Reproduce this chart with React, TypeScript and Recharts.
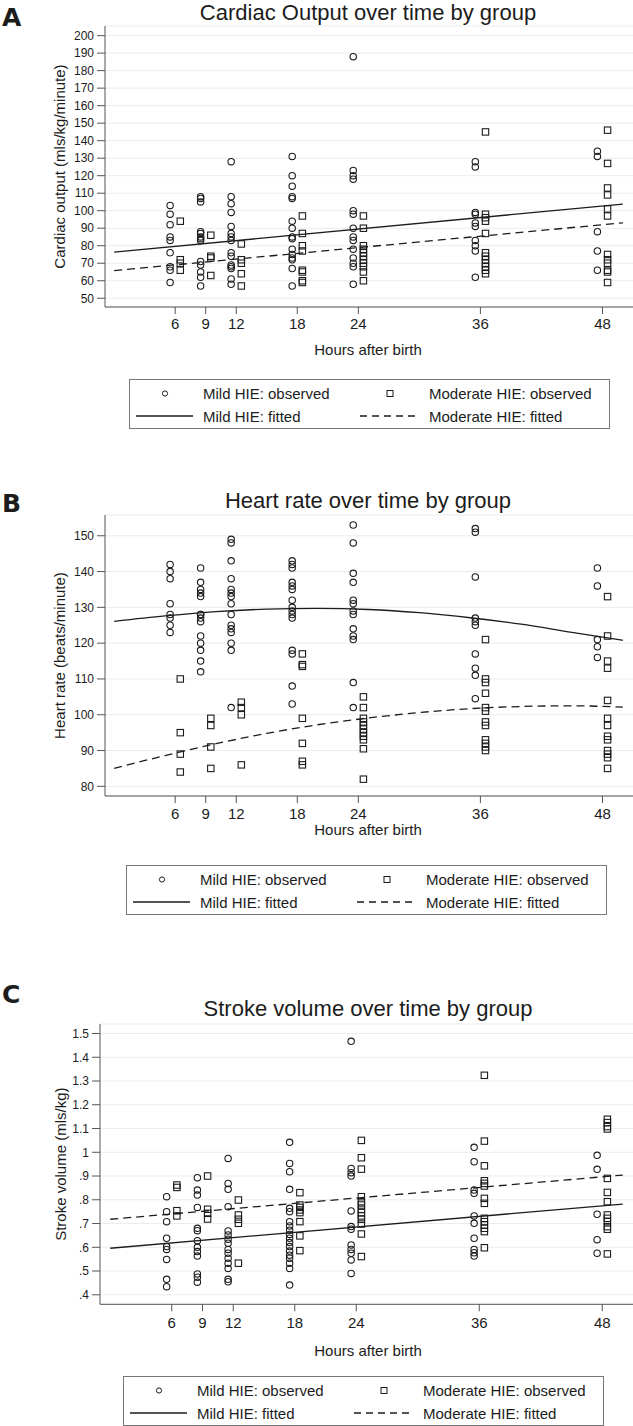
import { ComposedChart, Scatter, XAxis, YAxis, CartesianGrid } from 'recharts';

const HOURS = [6, 9, 12, 18, 24, 36, 48];

// A: cardiac output, one inner list per hour in HOURS
const coMild = [
  [103, 98, 92, 85, 83, 76, 68, 66, 59],
  [108, 107, 105, 88, 87, 85, 84, 83, 71, 69, 65, 62, 57],
  [128, 108, 104, 99, 91, 87, 85, 83, 76, 74, 69, 68, 67, 61, 58],
  [131, 120, 114, 108, 107, 94, 90, 85, 84, 78, 75, 73, 72, 67, 57],
  [188, 123, 120, 118, 100, 98, 90, 85, 83, 78, 73, 70, 68, 58],
  [128, 125, 99, 98, 93, 91, 83, 80, 77, 62],
  [134, 131, 88, 77, 66],
];
const coModerate = [
  [94, 72, 70, 66],
  [86, 74, 73, 63],
  [81, 72, 70, 64, 57],
  [97, 87, 80, 77, 66, 65, 60, 59],
  [97, 90, 80, 78, 76, 74, 72, 70, 68, 65, 60],
  [145, 98, 96, 94, 87, 76, 74, 72, 70, 68, 66, 64],
  [146, 127, 113, 109, 101, 97, 75, 72, 70, 66, 65, 59],
];

// B: heart rate
const hrMild = [
  [142, 140, 138, 131, 128, 127, 125, 123],
  [141, 137, 135, 134, 133, 128, 128, 127, 126, 122, 120, 118, 115, 112],
  [149, 148, 143, 138, 135, 134, 133, 131, 128, 125, 124, 123, 120, 118, 102],
  [143, 142, 141, 137, 136, 135, 132, 130, 129, 128, 127, 118, 117, 108, 103],
  [153, 148, 139.5, 137, 132, 131, 129, 128, 124, 122, 121, 109, 102],
  [152, 151, 138.5, 127, 126, 125, 117, 113, 111, 104.5],
  [141, 136, 121, 119, 116],
];
const hrModerate = [
  [110, 95, 89, 84],
  [99, 97, 91, 85],
  [103.5, 102, 100, 86],
  [117, 114, 113.5, 99, 92, 87, 86],
  [105, 102, 99, 98, 97, 96, 95, 94, 93, 90.5, 82],
  [121, 110, 109, 106, 102, 101, 98, 97, 93, 92, 91, 90],
  [133, 122, 115, 113, 104, 99, 97, 94, 93, 90, 89, 88, 85],
];

// C: stroke volume
const svMild = [
  [0.813, 0.75, 0.708, 0.638, 0.603, 0.591, 0.549, 0.465, 0.434],
  [0.893, 0.841, 0.82, 0.768, 0.68, 0.67, 0.628, 0.6, 0.582, 0.563, 0.488, 0.474, 0.453],
  [0.974, 0.869, 0.844, 0.771, 0.669, 0.652, 0.634, 0.617, 0.591, 0.575, 0.554, 0.533, 0.511, 0.465, 0.455],
  [1.042, 0.953, 0.918, 0.844, 0.764, 0.75, 0.708, 0.69, 0.672, 0.654, 0.638, 0.62, 0.603, 0.584, 0.567, 0.554, 0.533, 0.511, 0.441],
  [1.467, 0.932, 0.914, 0.9, 0.753, 0.687, 0.676, 0.61, 0.591, 0.575, 0.547, 0.49],
  [1.021, 0.96, 0.841, 0.827, 0.732, 0.701, 0.638, 0.591, 0.577, 0.563],
  [0.987, 0.928, 0.739, 0.632, 0.575],
];
const svModerate = [
  [0.862, 0.852, 0.754, 0.732],
  [0.9, 0.76, 0.743, 0.719],
  [0.799, 0.736, 0.718, 0.701, 0.533],
  [0.83, 0.778, 0.768, 0.757, 0.746, 0.708, 0.648, 0.586],
  [1.05, 0.977, 0.929, 0.813, 0.792, 0.778, 0.76, 0.746, 0.732, 0.718, 0.698, 0.656, 0.561],
  [1.324, 1.047, 0.943, 0.88, 0.869, 0.858, 0.806, 0.785, 0.722, 0.708, 0.694, 0.68, 0.666, 0.598],
  [1.139, 1.125, 1.108, 1.098, 0.89, 0.831, 0.792, 0.736, 0.722, 0.708, 0.687, 0.676, 0.572],
];

// fitted lines
const FIT_HOURS_LINE = [0, 50];
const FIT_HOURS_CURVE = [0, 5, 10, 15, 20, 25, 30, 35, 40, 45, 50];
const coFitMild = [76.3, 103.8];
const coFitModerate = [65.8, 93.1];
const hrFitMild = [126.1, 127.6, 128.8, 129.5, 129.7, 129.4, 128.5, 127.1, 125.3, 123.0, 120.8];
const hrFitModerate = [85.0, 88.6, 91.9, 94.8, 97.2, 99.1, 100.6, 101.7, 102.3, 102.5, 102.1];
const svFitMild = [0.596, 0.782];
const svFitModerate = [0.718, 0.904];

const CO_TICKS = [50, 60, 70, 80, 90, 100, 110, 120, 130, 140, 150, 160, 170, 180, 190, 200];
const HR_TICKS = [80, 90, 100, 110, 120, 130, 140, 150];
const SV_TICKS = [0.4, 0.5, 0.6, 0.7, 0.8, 0.9, 1, 1.1, 1.2, 1.3, 1.4, 1.5];

const FONT = "'Liberation Sans', Arial, sans-serif";
const INK = '#1c1c1c';

const toPoints = (groups: number[][], shift: number) =>
  groups.flatMap((vals, i) => vals.map((y) => ({ x: HOURS[i] + shift, y })));
const toLine = (hours: number[], vals: number[]) => vals.map((y, i) => ({ x: hours[i], y }));

const circleShape = (p: any) => (
  <circle cx={p.cx} cy={p.cy} r={3.2} fill="none" stroke={INK} strokeWidth={1.1} />
);
const squareShape = (p: any) => (
  <rect x={p.cx - 3.2} y={p.cy - 3.2} width={6.4} height={6.4} fill="none" stroke={INK} strokeWidth={1.1} />
);
const noShape = () => <g />;

const svFormat = (v: number) => (v < 1 ? String(v).replace(/^0/, '') : String(v));

const panels = [
  {
    letter: 'A',
    title: 'Cardiac Output over time by group',
    yTitle: 'Cardiac output (mls/kg/minute)',
    mild: coMild, moderate: coModerate,
    fitHours: FIT_HOURS_LINE, fitMild: coFitMild, fitModerate: coFitModerate,
    yTicks: CO_TICKS, yDomain: [45, 205.5], fmt: undefined,
    top: 0, marginTop: 26, plotH: 281, axisW: 105, xDomain: [-0.9, 51], xAxisH: 40, tickMargin: 4,
    letterY: 26, titleY: 20, xTitleY: 355, yTitleX: 59, legendTop: 379, legendLeft: 129,
  },
  {
    letter: 'B',
    title: 'Heart rate over time by group',
    yTitle: 'Heart rate (beats/minute)',
    mild: hrMild, moderate: hrModerate,
    fitHours: FIT_HOURS_CURVE, fitMild: hrFitMild, fitModerate: hrFitModerate,
    yTicks: HR_TICKS, yDomain: [77.3, 155.8], fmt: undefined,
    top: 460, marginTop: 55, plotH: 281, axisW: 105, xDomain: [-0.9, 51], xAxisH: 40, tickMargin: 5,
    letterY: 512, titleY: 508, xTitleY: 835, yTitleX: 59, legendTop: 865, legendLeft: 126,
  },
  {
    letter: 'C',
    title: 'Stroke volume over time by group',
    yTitle: 'Stroke volume (mls/kg)',
    mild: svMild, moderate: svModerate,
    fitHours: FIT_HOURS_LINE, fitMild: svFitMild, fitModerate: svFitModerate,
    yTicks: SV_TICKS, yDomain: [0.36, 1.54], fmt: svFormat,
    top: 980, marginTop: 44, plotH: 280.3, axisW: 100, xDomain: [-1.0, 51], xAxisH: 40, tickMargin: 6,
    letterY: 1003, titleY: 1016, xTitleY: 1356, yTitleX: 60, legendTop: 1376, legendLeft: 123,
  },
];

function PanelChart({ p }: { p: (typeof panels)[number] }) {
  return (
    <div style={{ position: 'absolute', top: p.top, left: 0 }}>
      <ComposedChart
        width={633}
        height={p.marginTop + p.plotH + p.xAxisH}
        margin={{ top: p.marginTop, right: 0, bottom: 0, left: 0 }}
      >
        <CartesianGrid vertical={false} stroke="#ececec" />
        <XAxis
          type="number"
          dataKey="x"
          domain={p.xDomain}
          ticks={HOURS}
          interval={0}
          allowDataOverflow
          height={p.xAxisH}
          tickSize={7}
          tickMargin={p.tickMargin}
          tick={{ fontSize: 15, fill: INK, fontFamily: FONT }}
          axisLine={{ stroke: '#555' }}
          tickLine={{ stroke: '#555' }}
        />
        <YAxis
          type="number"
          dataKey="y"
          domain={p.yDomain}
          ticks={p.yTicks}
          interval={0}
          allowDataOverflow
          width={p.axisW}
          tickSize={8}
          tickMargin={3}
          tickFormatter={p.fmt}
          tick={{ fontSize: 12, fill: INK, fontFamily: FONT }}
          axisLine={{ stroke: '#555' }}
          tickLine={{ stroke: '#555' }}
        />
        <Scatter data={toPoints(p.mild, -0.5)} shape={circleShape} isAnimationActive={false} />
        <Scatter data={toPoints(p.moderate, 0.5)} shape={squareShape} isAnimationActive={false} />
        <Scatter
          data={toLine(p.fitHours, p.fitMild)}
          line={{ stroke: INK, strokeWidth: 1.3 }}
          lineJointType="monotoneX"
          shape={noShape}
          isAnimationActive={false}
        />
        <Scatter
          data={toLine(p.fitHours, p.fitModerate)}
          line={{ stroke: INK, strokeWidth: 1.3, strokeDasharray: '8 5' }}
          lineJointType="monotoneX"
          shape={noShape}
          isAnimationActive={false}
        />
      </ComposedChart>
    </div>
  );
}

function PanelText({ p }: { p: (typeof panels)[number] }) {
  const cy = p.top + p.marginTop + p.plotH / 2;
  return (
    <g fontFamily={FONT} fill={INK}>
      <text x={2} y={p.letterY} fontFamily="'DejaVu Sans', sans-serif" fontWeight={700} fontSize={25}>
        {p.letter}
      </text>
      <text x={368} y={p.titleY} textAnchor="middle" fontSize={22}>{p.title}</text>
      <text x={368} y={p.xTitleY} textAnchor="middle" fontSize={15}>Hours after birth</text>
      <text
        transform={`translate(${p.yTitleX},${cy}) rotate(-90)`}
        textAnchor="middle"
        dominantBaseline="central"
        fontSize={15}
      >
        {p.yTitle}
      </text>
      <g transform={`translate(${p.legendLeft},${p.legendTop})`} fontSize={15}>
        <rect x={0.5} y={0.5} width={480} height={49} fill="#fff" stroke="#777" />
        <circle cx={36} cy={14.5} r={2.6} fill="none" stroke={INK} />
        <text x={74} y={20}>Mild HIE: observed</text>
        <rect x={258} y={11.5} width={6} height={6} fill="none" stroke={INK} />
        <text x={300} y={20}>Moderate HIE: observed</text>
        <line x1={7} x2={64} y1={37} y2={37} stroke={INK} strokeWidth={1.3} />
        <text x={74} y={42.5}>Mild HIE: fitted</text>
        <line x1={231} x2={289} y1={37} y2={37} stroke={INK} strokeWidth={1.3} strokeDasharray="7 5" />
        <text x={300} y={42.5}>Moderate HIE: fitted</text>
      </g>
    </g>
  );
}

export default function App() {
  return (
    <div style={{ position: 'absolute', top: 0, left: 0, width: 633, height: 1426, background: '#fff' }}>
      {panels.map((p) => (
        <PanelChart key={p.letter} p={p} />
      ))}
      <svg width={633} height={1426} style={{ position: 'absolute', top: 0, left: 0, pointerEvents: 'none' }}>
        {panels.map((p) => (
          <PanelText key={p.letter} p={p} />
        ))}
      </svg>
    </div>
  );
}
